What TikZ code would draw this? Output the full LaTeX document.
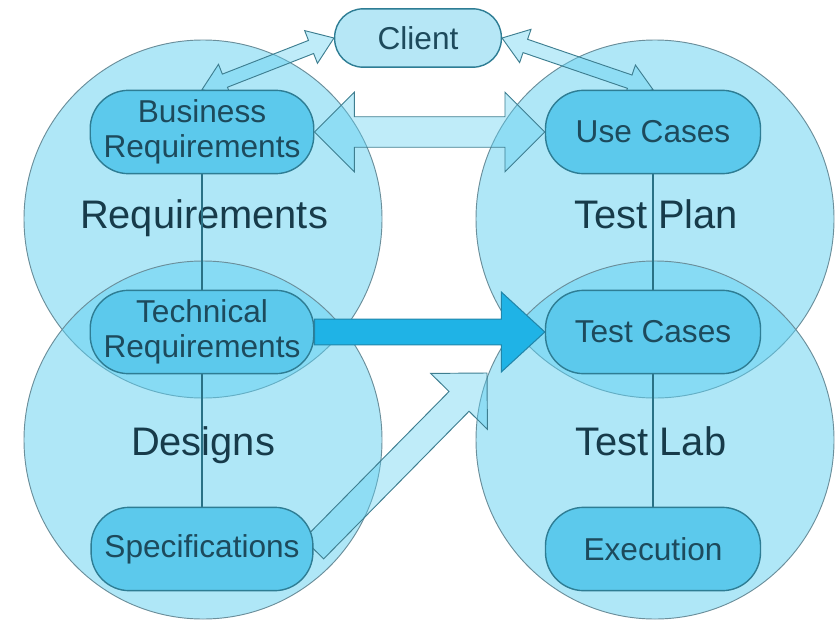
\documentclass[tikz,border=0pt]{standalone}
\usepackage{fontspec}
\setmainfont{Liberation Sans}
\usetikzlibrary{calc}
\definecolor{qaSky}{HTML}{5FCFF0}
\definecolor{qaRim}{HTML}{6B8F9B}
\definecolor{qaPill}{HTML}{5CC9EC}
\definecolor{qaEdge}{HTML}{2E7D94}
\definecolor{qaInk}{HTML}{1D4A5C}
\definecolor{qaFlow}{HTML}{1FB3E6}
\definecolor{qaFlowEdge}{HTML}{2186AA}
\pgfdeclarelayer{bg}
\pgfdeclarelayer{mid}
\pgfsetlayers{bg,mid,main}

\begin{document}
\begin{tikzpicture}[x=0.3mm, y=-0.3mm,
  phase/.style={circle, draw=qaRim, line width=0.8pt, fill=qaSky,
                fill opacity=0.5, draw opacity=1, minimum size=107.4mm, inner sep=0pt},
  phaselabel/.style={anchor=base, font=\fontsize{34}{40}\selectfont, text=qaInk!80!black},
  item/.style={draw=qaEdge, fill=qaPill, line width=1.2pt, rounded corners=11.5mm,
               minimum width=64.5mm, minimum height=25mm, inner xsep=4mm, inner ysep=1mm,
               align=center, text=qaInk, font=\fontsize{27}{30}\selectfont},
  link/.style={line width=0.9pt, draw=qaEdge!90!black},
  hollow/.style={draw=qaEdge!80!gray, line width=0.8pt, fill=qaSky, fill opacity=0.4,
                 line join=miter},
  solidflow/.style={draw=qaFlowEdge, line width=0.9pt, fill=qaFlow},
]
\useasboundingbox (0,0) rectangle (837,625);

% ─── helper macros: block arrows between two points ─────────────
% #1=style, #2=from, #3=to, #4=shaft half width, #5=head half width, #6=head length
\newcommand{\blockarrow}[6]{%
  \coordinate (ba) at ($(#3)!#6!(#2)$);
  \draw[#1] ($(#2)!#4!90:(#3)$) -- ($(ba)!#4!90:(#3)$) -- ($(ba)!#5!90:(#3)$)
    -- (#3) -- ($(ba)!#5!-90:(#3)$) -- ($(ba)!#4!-90:(#3)$)
    -- ($(#2)!#4!-90:(#3)$) -- cycle;
}
\newcommand{\dblarrow}[6]{%
  \coordinate (ba) at ($(#3)!#6!(#2)$);
  \coordinate (bb) at ($(#2)!#6!(#3)$);
  \draw[#1] (#2) -- ($(bb)!#5!90:(#3)$) -- ($(bb)!#4!90:(#3)$)
    -- ($(ba)!#4!90:(#3)$) -- ($(ba)!#5!90:(#3)$) -- (#3)
    -- ($(ba)!#5!-90:(#3)$) -- ($(ba)!#4!-90:(#3)$)
    -- ($(bb)!#4!-90:(#3)$) -- ($(bb)!#5!-90:(#3)$) -- cycle;
}

% ─── items ──────────────────────────────────────────────────────
\node[item, fill=qaPill!45!white, minimum width=50mm, minimum height=17.5mm,
      rounded corners=8.5mm] (client) at (418,38) {Client};
\node[item] (busreq)    at (202,132) {Business\\Requirements};
\node[item] (techreq)   at (202,332) {Technical\\Requirements};
\node[item] (specs)     at (202,549) {Specifications};
\node[item] (usecases)  at (653,132) {Use Cases};
\node[item] (testcases) at (653,332) {Test Cases};
\node[item] (execution) at (653,549) {Execution};
\coordinate (spectip) at (487,373);

% ─── phase circles ──────────────────────────────────────────────
\begin{pgfonlayer}{bg}
  \node[phase] (reqc)    at (203,219) {};
  \node[phase] (designc) at (203,440) {};
  \node[phase] (planc)   at (655,219) {};
  \node[phase] (labc)    at (655,440) {};
  \node[phaselabel] (reqlbl)    at (204,228) {Requirements};
  \node[phaselabel] (designlbl) at (203,455) {Designs};
  \node[phaselabel] (planlbl)   at (656,228) {Test Plan};
  \node[phaselabel] (lablbl)    at (651,455) {Test Lab};
\end{pgfonlayer}

% ─── links and flows ────────────────────────────────────────────
\begin{pgfonlayer}{mid}
  \foreach \fr/\to in {busreq/techreq, techreq/specs, usecases/testcases, testcases/execution}{
    \draw[link] (\fr) -- (\to);
  }
  \dblarrow{hollow}{client.west}{busreq.north}{6pt}{15pt}{21pt}
  \dblarrow{hollow}{client.east}{usecases.north}{6pt}{15pt}{21pt}
  \dblarrow{hollow}{busreq.east}{usecases.west}{13pt}{34pt}{34pt}
  \blockarrow{solidflow}{techreq.east}{testcases.west}{11pt}{34pt}{37pt}
  \blockarrow{hollow}{specs.east}{spectip}{12pt}{34pt}{34pt}
\end{pgfonlayer}

\end{tikzpicture}
\end{document}
